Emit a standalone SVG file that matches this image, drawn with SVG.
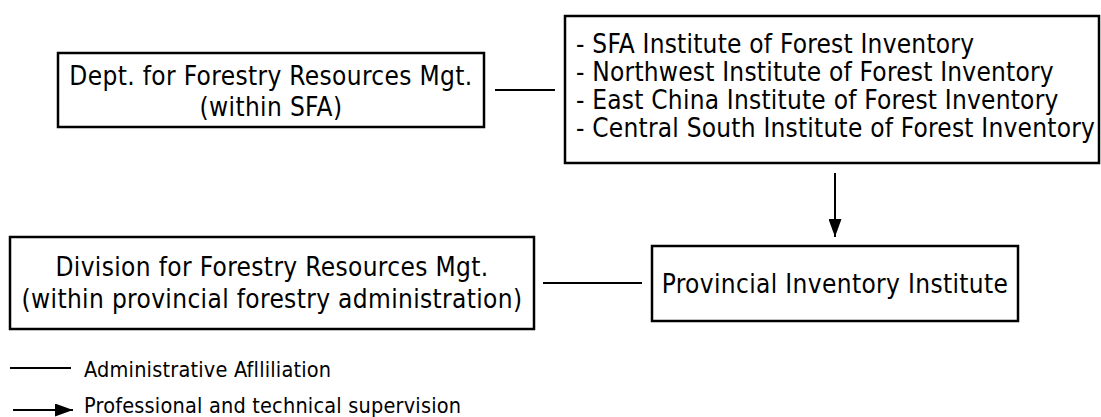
<svg xmlns="http://www.w3.org/2000/svg" width="1101" height="417" viewBox="0 0 1101 417">
<style>
.box{fill:#fff;stroke:#000;stroke-width:2.5}
.t{font-family:"DejaVu Sans Condensed","DejaVu Sans",sans-serif;font-stretch:condensed;font-size:26px;letter-spacing:0.35px;fill:#000}
.li{letter-spacing:0.22px}
.c{text-anchor:middle}
.l{font-family:"DejaVu Sans Condensed","DejaVu Sans",sans-serif;font-stretch:condensed;font-size:21.5px;letter-spacing:0.2px;fill:#000}
.ln{stroke:#000;stroke-width:2;fill:none}
</style>
<defs>
<marker id="ah" viewBox="0 0 18 13" refX="18" refY="6.5" markerWidth="18" markerHeight="13" markerUnits="userSpaceOnUse" orient="auto">
<path d="M0,0 L18,6.5 L0,13 z" fill="#000"/>
</marker>
</defs>
<rect width="1101" height="417" fill="#fff"/>
<g id="dept">
<rect class="box" x="58" y="53" width="426" height="74"/>
<text class="t c" x="271" y="85">Dept. for Forestry Resources Mgt.</text>
<text class="t c" x="271" y="116">(within SFA)</text>
</g>
<g id="institutes">
<rect class="box" x="565" y="16" width="534" height="147"/>
<text class="t li" x="576" y="53">- SFA Institute of Forest Inventory</text>
<text class="t li" x="576" y="81">- Northwest Institute of Forest Inventory</text>
<text class="t li" x="576" y="109">- East China Institute of Forest Inventory</text>
<text class="t li" x="576" y="137">- Central South Institute of Forest Inventory</text>
</g>
<g id="division">
<rect class="box" x="10" y="237" width="524" height="92"/>
<text class="t c" x="272" y="276">Division for Forestry Resources Mgt.</text>
<text class="t c" x="272" y="308">(within provincial forestry administration)</text>
</g>
<g id="provincial">
<rect class="box" x="652" y="246" width="366" height="75"/>
<text class="t c" x="835" y="293">Provincial Inventory Institute</text>
</g>
<g id="connectors">
<line class="ln" x1="495" y1="90" x2="555" y2="90"/>
<line class="ln" x1="543" y1="283" x2="642" y2="283"/>
<line class="ln" x1="835" y1="173" x2="835" y2="237" marker-end="url(#ah)"/>
</g>
<g id="legend">
<line class="ln" x1="10" y1="368" x2="71" y2="368"/>
<text class="l" x="84" y="377">Administrative Aflliliation</text>
<line class="ln" x1="13" y1="410" x2="73" y2="410" marker-end="url(#ah)"/>
<text class="l" x="84" y="413">Professional and technical supervision</text>
</g>
</svg>
